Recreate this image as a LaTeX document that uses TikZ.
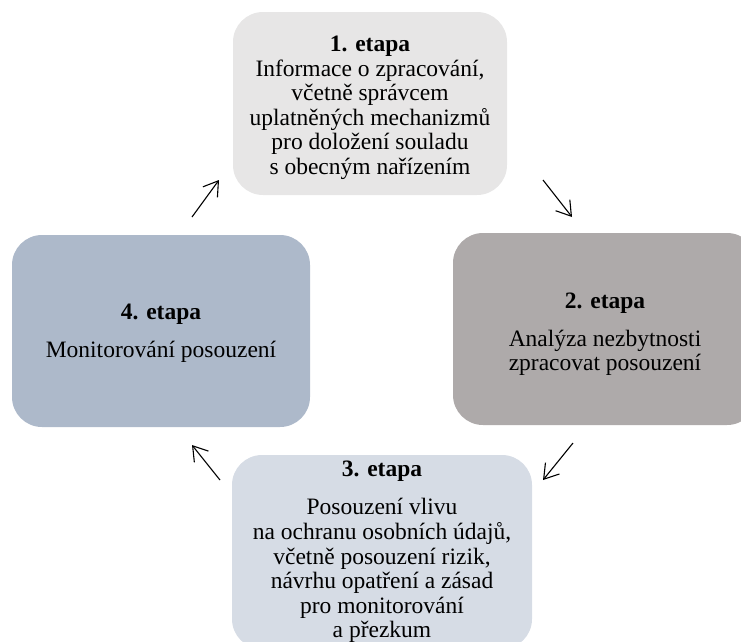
\documentclass[tikz,border=0pt]{standalone}
\usepackage{fontspec}
\setmainfont{Liberation Serif}
\usepackage{tikz}
\usetikzlibrary{positioning}
\usetikzlibrary{arrows.meta}
\definecolor{etapaA}{HTML}{E7E6E6}
\definecolor{etapaB}{HTML}{AEAAAA}
\definecolor{etapaC}{HTML}{D6DCE5}
\definecolor{etapaD}{HTML}{ADB9CA}
\tikzset{
	etapa/.style = {rectangle, rounded corners=30pt, draw=none, inner sep=0pt,
	 align=center, font=\fontsize{23.5}{24.6}\selectfont},
	krok/.style = {-{Straight Barb[length=14pt,width=18pt]}, line width=1.1pt},
}

\begin{document}
\begin{tikzpicture}[x=1pt, y=-1pt]
        \useasboundingbox (0,0) rectangle (741,641);
        \clip (0,0) rectangle (741,641);
               \node (Etapa1) [etapa, fill=etapaA, minimum width=274pt, minimum height=183pt] at (370,103.5)
                {\rule{0pt}{24pt}\textbf{1. etapa}\\Informace o zpracování,\\včetně správcem\\uplatněných mechanizmů\\pro doložení souladu\\s obecným nařízením};
               \node (Etapa2) [etapa, fill=etapaB, minimum width=304pt, minimum height=192pt] at (605,329)
                {\rule{0pt}{26pt}\textbf{2. etapa}\\[13.5pt]Analýza nezbytnosti\\zpracovat posouzení};
               \node (Etapa3) [etapa, fill=etapaC, minimum width=300pt, minimum height=194pt] at (382,552)
                {\textbf{3. etapa}\\[13.5pt]Posouzení vlivu\\na ochranu osobních údajů,\\včetně posouzení rizik,\\návrhu opatření a zásad\\pro monitorování\\a přezkum};
               \node (Etapa4) [etapa, fill=etapaD, minimum width=298pt, minimum height=192pt] at (161,331)
                {\rule{0pt}{20pt}\textbf{4. etapa}\\[13.5pt]Monitorování posouzení};
                \coordinate (z41) at (192,217);
                \coordinate (k41) at (219,180);
                \coordinate (z12) at (543,180);
                \coordinate (k12) at (572,217);
                \coordinate (z23) at (573,443);
                \coordinate (k23) at (543,480);
                \coordinate (z34) at (220,480);
                \coordinate (k34) at (192,445);
                \draw[krok] (z41) -- (k41);
                \draw[krok] (z12) -- (k12);
                \draw[krok] (z23) -- (k23);
                \draw[krok] (z34) -- (k34);
        \end{tikzpicture}
\end{document}
